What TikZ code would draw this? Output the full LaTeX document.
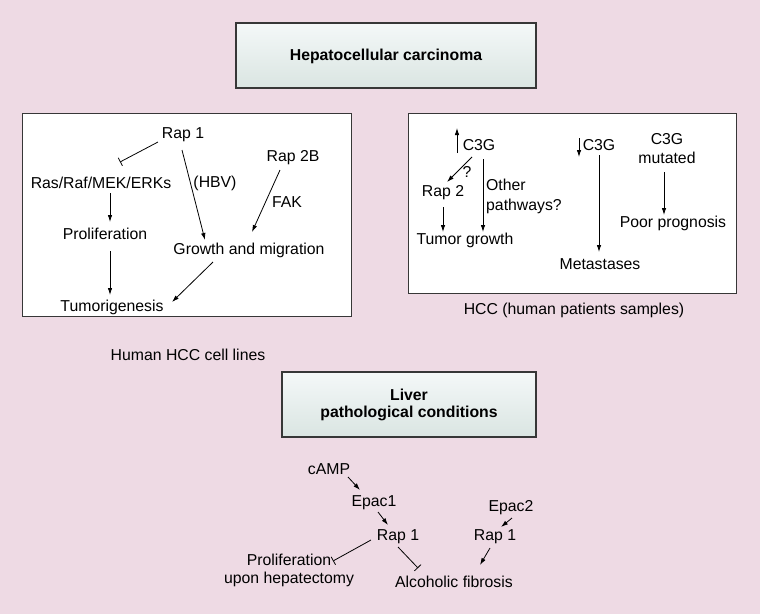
\documentclass[tikz,border=0pt]{standalone}
\usepackage{fontspec}
\setmainfont{Liberation Sans}
\usetikzlibrary{arrows.meta,calc}
\definecolor{bgpink}{RGB}{238,218,228}
\definecolor{hdtop}{RGB}{244,248,248}
\definecolor{hdbot}{RGB}{218,229,226}
\definecolor{bordergray}{RGB}{55,55,55}
\tikzset{
  txt/.style={inner sep=1pt,font=\fontsize{15.8}{18}\selectfont},
  hdtxt/.style={inner sep=1pt,font=\bfseries\fontsize{15.8}{18}\selectfont,align=center},
  panel/.style={draw=bordergray,line width=1pt,fill=white},
  header/.style={draw=bordergray,line width=1.3pt,top color=hdtop,bottom color=hdbot},
  act/.style={line width=0.8pt,-{Latex[length=7pt,width=4.5pt]}},
  inh/.style={line width=0.8pt,-{Bar[width=9pt,line width=0.8pt]}},
}
\begin{document}
\begin{tikzpicture}[x=1pt,y=-1pt]
\fill[bgpink] (0,0) rectangle (760,614);
\useasboundingbox (0,0) rectangle (760,614);

% headers
\draw[header] (236,23) rectangle (536,88);
\node[hdtxt] (h1) at (386,56) {Hepatocellular carcinoma};
\draw[header] (282,372) rectangle (536,437);
\node[hdtxt] (h2) at (409,405) {Liver\\[-1pt]pathological conditions};

% panels
\draw[panel] (22,113) rectangle (351,316);
\draw[panel] (408,113) rectangle (736,293);

% left panel
\node[txt] (r1) at (183,135) {Rap 1};
\node[txt] (ras) at (101,183) {Ras/Raf/MEK/ERKs};
\node[txt] (prol) at (105,234) {Proliferation};
\node[txt] (tum) at (112,307) {Tumorigenesis};
\node[txt] (hbv) at (215,183) {(HBV)};
\node[txt] (r2b) at (293,158) {Rap 2B};
\node[txt] (fak) at (287,202) {FAK};
\node[txt] (gm) at (249,250) {Growth and migration};
\node[txt] (cl) at (188,355) {Human HCC cell lines};

\draw[inh] ($(r1)+(-25,7)$) -- ($(ras)+(19,-21)$);
\draw[act] ($(ras)+(9,10)$) -- ($(prol)+(5,-12)$);
\draw[act] ($(prol)+(5,17)$) -- ($(tum)+(-2,-12)$);
\draw[act] ($(r1)+(-1,15)$) -- ($(gm)+(-44,-10)$);
\draw[act] ($(r2b)+(-13,12)$) -- ($(gm)+(3,-18)$);
\draw[act] ($(gm)+(-36,12)$) -- ($(tum)+(60,-5)$);

% right panel
\node[txt] (c3a) at (479,145) {C3G};
\node[txt] (rap2) at (443,193) {Rap 2};
\node[txt] (tg) at (465,240) {Tumor growth};
\node[txt] (q) at (467,172) {?};
\node[txt,anchor=west,align=left] (oth) at (485,196) {Other\\[2pt]pathways?};
\node[txt] (c3b) at (599,145) {C3G};
\node[txt] (met) at (600,264) {Metastases};
\node[txt,align=center] (c3m) at (667,149) {C3G\\[1pt]mutated};
\node[txt] (pp) at (673,223) {Poor prognosis};
\node[txt] (hcc) at (574,310) {HCC (human patients samples)};

\draw[act] ($(c3a)+(-22,8)$) -- ($(c3a)+(-22,-17)$);
\draw[act] ($(c3a)+(-7,12)$) -- ($(rap2)+(4,-11)$);
\draw[act] ($(rap2)+(0,14)$) -- ($(tg)+(-22,-8)$);
\draw[act] ($(c3a)+(4,14)$) -- ($(tg)+(18,-8)$);
\draw[act] ($(c3b)+(-20,-7)$) -- ($(c3b)+(-20,12)$);
\draw[act] ($(c3b)+(0,10)$) -- ($(met)+(-1,-12)$);
\draw[act] ($(c3m)+(-3,23)$) -- ($(pp)+(-9,-8)$);

% bottom
\node[txt] (camp) at (329,469) {cAMP};
\node[txt] (epac1) at (374,503) {Epac1};
\node[txt] (rapa) at (398,537) {Rap 1};
\node[txt,align=center] (prolup) at (289,570) {Proliferation\\upon hepatectomy};
\node[txt] (alc) at (454,582) {Alcoholic fibrosis};
\node[txt] (epac2) at (511,508) {Epac2};
\node[txt] (rapb) at (495,537) {Rap 1};

\draw[act] ($(camp)+(19,8)$) -- ($(epac1)+(-14,-13)$);
\draw[act] ($(epac1)+(4,9)$) -- ($(rapa)+(-10,-12)$);
\draw[inh] ($(rapa)+(-27,3)$) -- ($(prolup)+(44,-9)$);
\draw[inh] ($(rapa)+(0,10)$) -- ($(alc)+(-36,-14)$);
\draw[act] ($(epac2)+(1,10)$) -- ($(rapb)+(6,-10)$);
\draw[act] ($(rapb)+(-5,11)$) -- ($(alc)+(26,-17)$);
\end{tikzpicture}
\end{document}
